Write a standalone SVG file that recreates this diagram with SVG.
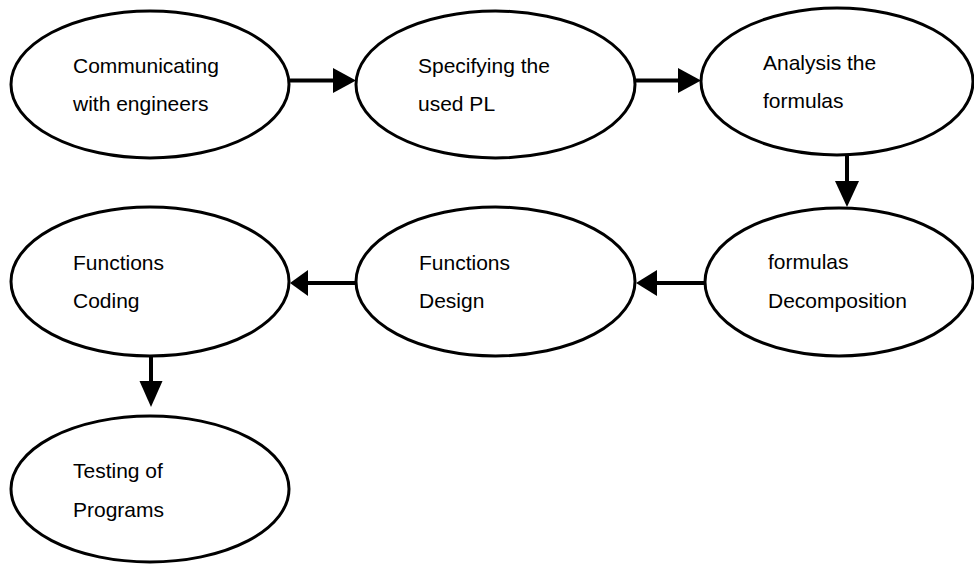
<svg xmlns="http://www.w3.org/2000/svg" width="974" height="564" viewBox="0 0 974 564">
<style>
.node ellipse{fill:#fff;stroke:#000;stroke-width:3}
.node text{font-family:"Liberation Sans",Arial,sans-serif;font-size:21px;fill:#000}
.conn line{stroke:#000;stroke-width:4}
.conn polygon{fill:#000}
</style>
<rect width="974" height="564" fill="#fff"/>
<g id="n1" class="node"><ellipse cx="150" cy="84.5" rx="139" ry="73.5"/><text x="73" y="73">Communicating</text><text x="73" y="111">with engineers</text></g>
<g id="n2" class="node"><ellipse cx="495.5" cy="84.5" rx="139.5" ry="73.5"/><text x="418" y="73">Specifying the</text><text x="418" y="111">used PL</text></g>
<g id="n3" class="node"><ellipse cx="837" cy="81.5" rx="136" ry="73.5"/><text x="763" y="70">Analysis the</text><text x="763" y="108">formulas</text></g>
<g id="n4" class="node"><ellipse cx="150" cy="281.5" rx="139" ry="74.5"/><text x="73" y="270">Functions</text><text x="73" y="308">Coding</text></g>
<g id="n5" class="node"><ellipse cx="495.5" cy="281.5" rx="139.5" ry="74.5"/><text x="419" y="270">Functions</text><text x="419" y="308">Design</text></g>
<g id="n6" class="node"><ellipse cx="839" cy="282" rx="134" ry="74"/><text x="768" y="269">formulas</text><text x="768" y="308">Decomposition</text></g>
<g id="n7" class="node"><ellipse cx="150" cy="489" rx="139" ry="73"/><text x="73" y="478">Testing of</text><text x="73" y="517">Programs</text></g>
<g id="connectors" class="conn">
<line x1="290" y1="80.5" x2="336" y2="80.5"/><polygon points="333,68 356,80.5 333,93"/>
<line x1="635" y1="80.5" x2="681" y2="80.5"/><polygon points="678,68 701,80.5 678,93"/>
<line x1="847" y1="154" x2="847" y2="184"/><polygon points="835,181 859,181 847,207"/>
<line x1="705" y1="283" x2="654" y2="283"/><polygon points="657,270 636,283 657,296"/>
<line x1="356" y1="283" x2="305" y2="283"/><polygon points="308,270 290,283 308,296"/>
<line x1="151" y1="355" x2="151" y2="384"/><polygon points="139.5,381 162.5,381 151,407"/>
</g>
</svg>
